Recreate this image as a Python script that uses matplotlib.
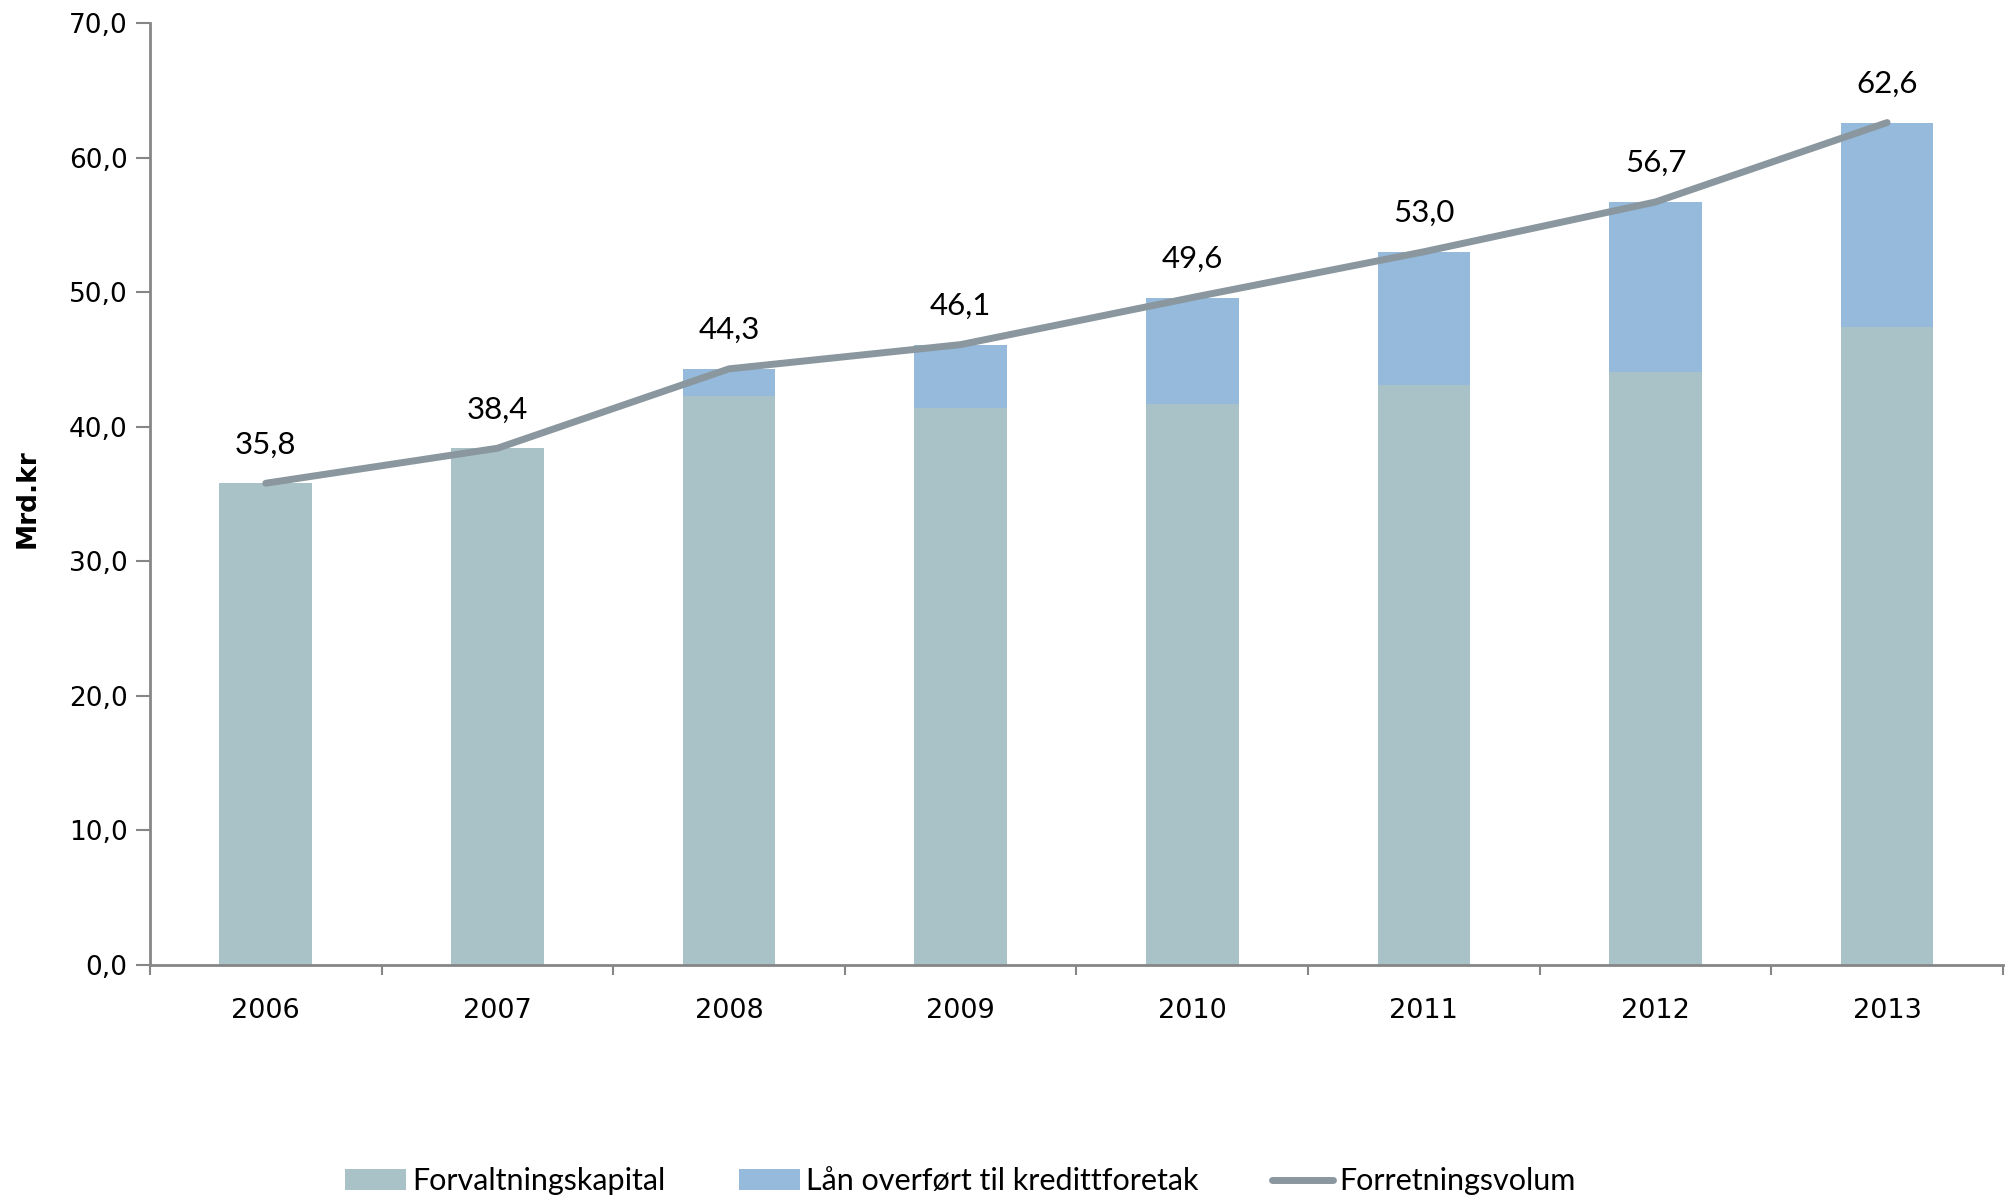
import numpy as np
import matplotlib
matplotlib.use("Agg")
import matplotlib.pyplot as plt
from matplotlib.ticker import FuncFormatter

years = ["2006", "2007", "2008", "2009", "2010", "2011", "2012", "2013"]
forvaltning = [35.8, 38.4, 42.3, 41.4, 41.7, 43.1, 44.1, 47.4]
total = [35.8, 38.4, 44.3, 46.1, 49.6, 53.0, 56.7, 62.6]
laan = [t - f for t, f in zip(total, forvaltning)]
label_names = ["Forvaltningskapital", "Lån overført til kredittforetak", "Forretningsvolum"]

c_base = "#A9C2C8"
c_top = "#95BADB"
c_line = "#8A979F"
c_axis = "#868686"
narrow = ["Liberation Sans Narrow", "Lato", "DejaVu Sans"]

fig = plt.figure(figsize=(20.13, 11.97), dpi=100)
ax = fig.add_axes([0.0745, 0.1938, 0.9205, 0.787])

x = np.arange(len(years))
b1 = ax.bar(x, forvaltning, width=0.4, color=c_base, label=label_names[0], zorder=2)
b2 = ax.bar(x, laan, width=0.4, bottom=forvaltning, color=c_top, label=label_names[1], zorder=2)
ln, = ax.plot(x, total, color=c_line, lw=5, solid_capstyle="round", label=label_names[2], zorder=3)

for xi, v in zip(x, total):
    ax.annotate(f"{v:.1f}".replace(".", ","), (xi, v), xytext=(0, 28), textcoords="offset points",
                ha="center", va="center", fontsize=22.5, family=narrow)

ax.set_xlim(-0.5, len(years) - 0.5)
ax.set_ylim(0, 70)
ax.set_yticks(np.arange(0, 71, 10))
ax.yaxis.set_major_formatter(FuncFormatter(lambda v, p: f"{v:.1f}".replace(".", ",")))
ax.set_xticks(x)
ax.set_xticklabels(years)
ax.set_xticks(np.arange(-0.5, len(years), 1), minor=True)
ax.tick_params(axis="x", which="major", length=0, pad=24, labelsize=19.5)
ax.tick_params(axis="x", which="minor", length=7, width=1.5, color=c_axis, direction="out")
ax.tick_params(axis="y", length=10, width=1.5, color=c_axis, pad=6, labelsize=19)

for s in ["top", "right"]:
    ax.spines[s].set_visible(False)
for s in ["left", "bottom"]:
    ax.spines[s].set_color(c_axis)
    ax.spines[s].set_linewidth(2)

ax.set_ylabel("Mrd.kr", fontsize=19, fontweight="bold")
ax.yaxis.set_label_coords(-0.059, 0.495)

fig.legend([b1, b2, ln], label_names, loc="center", bbox_to_anchor=(0.477, 0.013), ncol=3, frameon=False,
           prop={"family": narrow, "size": 22}, handlelength=2.0, handleheight=0.7,
           handletextpad=0.2, columnspacing=2.4)

fig.savefig("out.png", dpi=100)
